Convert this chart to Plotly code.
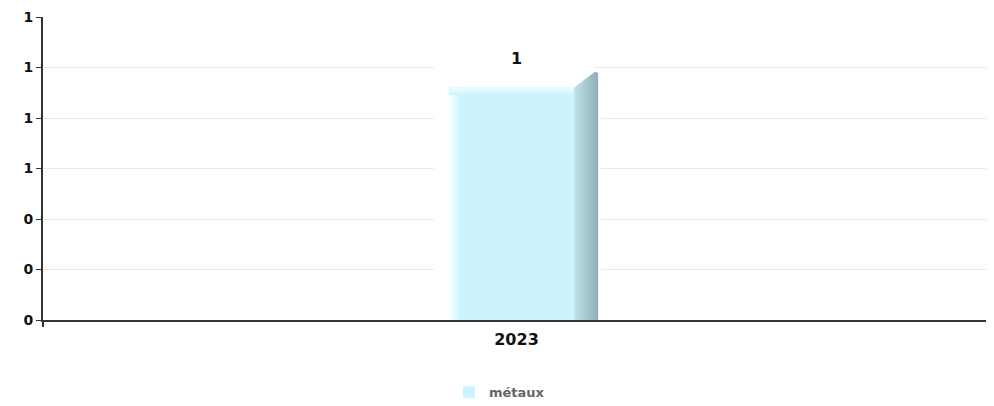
import plotly.graph_objs as go

# données
years = ["2023"]
metaux = [1]
series_name = "métaux"
y_ticks = [0, 0.2, 0.4, 0.6, 0.8, 1.0, 1.2]

# style du pseudo 3D (unités d'axe)
front_left = -0.0714
front_right = 0.0608
side_right = 0.0862
depth = 0.079
side_drop = 0.016

face = "#ccf4fd"
font = "DejaVu Sans"

pos = list(range(len(years)))

fig = go.Figure()
shapes = []

for p, val in zip(pos, metaux):
    top = val - depth
    fl = p + front_left
    fr = p + front_right
    sr = p + side_right
    # halo blanc autour de la barre (entre la grille et les traces)
    shapes.append(dict(
        type="path", xref="x", yref="y", layer="between",
        path=(f"M {p - 0.0873},0 L {p + 0.0894},0 L {p + 0.0894},{val - side_drop} "
              f"L {p + 0.078},{val + 0.012} L {p - 0.0873},{val + 0.012} Z"),
        fillcolor="white", line=dict(width=0)))
    # face avant
    fig.add_trace(go.Bar(
        x=[p], y=[top], width=front_right - front_left, offset=front_left,
        marker=dict(color=face, line=dict(width=0)), name=series_name,
        hoverinfo="skip"))
    # bord gauche dégradé
    fig.add_trace(go.Scatter(
        x=[fl, fl + 0.012, fl + 0.012, fl, fl],
        y=[0, 0, top, top, 0],
        fill="toself", mode="lines", line=dict(width=0),
        fillgradient=dict(type="horizontal", colorscale=[[0, "#ffffff"], [1, face]]),
        showlegend=False, hoverinfo="skip"))
    # bord haut dégradé
    fig.add_trace(go.Scatter(
        x=[fl, fr, fr, fl, fl],
        y=[top - 0.03, top - 0.03, top, top, top - 0.03],
        fill="toself", mode="lines", line=dict(width=0),
        fillgradient=dict(type="vertical", colorscale=[[0, face], [1, "#effdff"]]),
        showlegend=False, hoverinfo="skip"))
    # face latérale
    fig.add_trace(go.Scatter(
        x=[fr, sr, sr, sr - 0.003, fr, fr],
        y=[0, 0, val - side_drop - 0.006, val - side_drop, top, 0],
        fill="toself", mode="lines", line=dict(width=0),
        fillgradient=dict(type="horizontal", colorscale=[[0, "#bfe4ea"], [1, "#8db0b7"]]),
        showlegend=False, hoverinfo="skip"))

# étiquettes des valeurs
fig.add_trace(go.Scatter(
    x=pos, y=metaux, mode="text", text=[str(v) for v in metaux],
    textposition="top center",
    textfont=dict(family=font, size=16, color="#111", weight="bold"),
    showlegend=False, hoverinfo="skip"))

fig.update_layout(
    width=982, height=400,
    margin=dict(l=35, r=0, t=9, b=76),
    plot_bgcolor="white", paper_bgcolor="white",
    shapes=shapes,
    showlegend=True,
    legend=dict(orientation="h", x=0.482, xanchor="center", y=-0.239, yanchor="middle",
                font=dict(family=font, size=13, color="#666", weight="bold"),
                itemwidth=30),
    xaxis=dict(range=[-0.5, len(years) - 0.5], tickvals=pos, ticktext=years,
               showline=True, linecolor="#333", linewidth=2, ticks="",
               minor=dict(tickvals=[-0.5, len(years) - 0.5], ticks="outside",
                          ticklen=5, tickcolor="#333", tickwidth=2),
               showgrid=False, zeroline=False, layer="below traces", automargin=False,
               ticklabelstandoff=4,
               tickfont=dict(family=font, size=16, color="#111", weight="bold")),
    yaxis=dict(range=[0, 1.2], tickvals=y_ticks, tickformat=".0f", showline=True,
               linecolor="#333", linewidth=2, ticks="outside", ticklen=5,
               tickcolor="#333", tickwidth=1, gridcolor="#e8e8e8", zeroline=False,
               layer="below traces", automargin=False, ticklabelstandoff=0,
               tickfont=dict(family=font, size=14, color="#111", weight="bold")),
)

fig.write_html("out.html")
